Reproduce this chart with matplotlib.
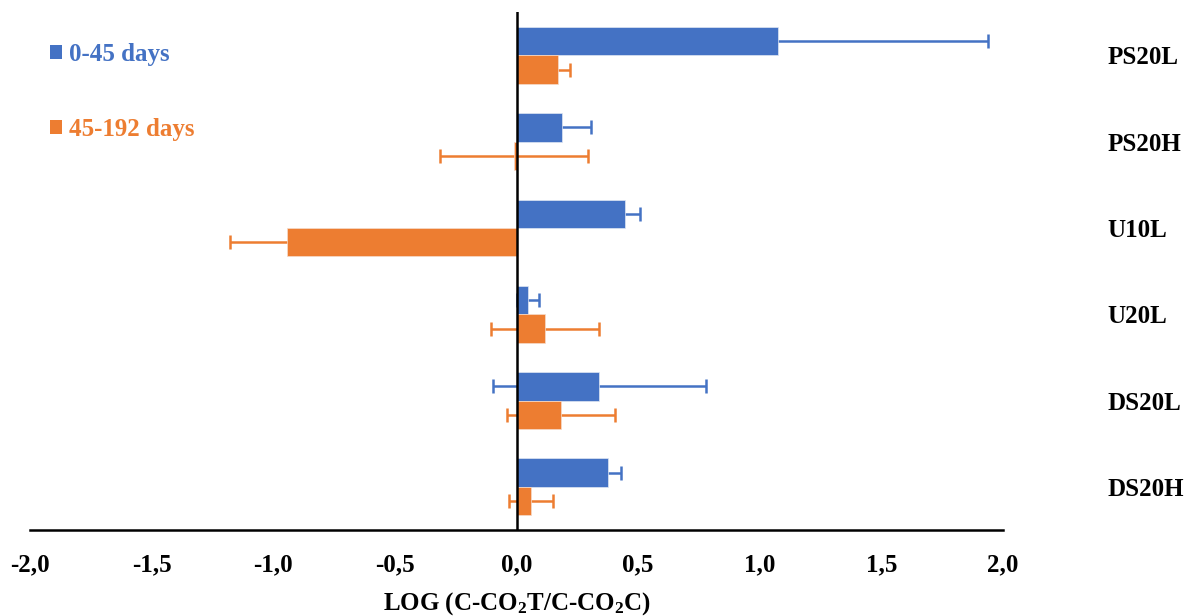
import matplotlib
matplotlib.use("Agg")
import matplotlib.pyplot as plt
from matplotlib.patches import Patch
import numpy as np

# ---- data ----
categories = ["PS20L", "PS20H", "U10L", "U20L", "DS20L", "DS20H"]
series_names = ["0-45 days", "45-192 days"]
early_vals = [1.073, 0.186, 0.445, 0.047, 0.341, 0.375]
early_err = [0.865, 0.119, 0.061, 0.046, 0.438, 0.053]
late_vals = [0.170, -0.010, -0.943, 0.118, 0.182, 0.059]
late_err = [0.049, 0.305, 0.236, 0.223, 0.222, 0.089]
xticks = [-2.0, -1.5, -1.0, -0.5, 0.0, 0.5, 1.0, 1.5, 2.0]
xtick_labels = ["-2,0", "-1,5", "-1,0", "-0,5", "0,0", "0,5", "1,0", "1,5", "2,0"]
xlabel = r"LOG (C-CO$_2$T/C-CO$_2$C)"

BLUE = "#4472C4"
ORANGE = "#ED7D31"

plt.rcParams["font.family"] = ["Liberation Serif", "DejaVu Serif"]
plt.rcParams["font.weight"] = "bold"
plt.rcParams["mathtext.fontset"] = "custom"
plt.rcParams["mathtext.rm"] = "Liberation Serif:bold"
plt.rcParams["mathtext.it"] = "Liberation Serif:bold"
plt.rcParams["mathtext.bf"] = "Liberation Serif:bold"
plt.rcParams["mathtext.default"] = "rm"

FS = 18

fig = plt.figure(figsize=(11.95, 6.16), dpi=100)
ax = fig.add_axes([30 / 1195, 1 - 530 / 616, (1003 - 30) / 1195, (530 - 12.3) / 616])

y = np.arange(len(categories))
h = 0.33
y_early = y - h / 2
y_late = y + h / 2

ax.barh(y_early, early_vals, height=h, color=BLUE, edgecolor="#dfe6f3", linewidth=0.5, zorder=3)
ax.barh(y_late, late_vals, height=h, color=ORANGE, edgecolor="#f6dccb", linewidth=0.5, zorder=3)
ax.errorbar(early_vals, y_early, xerr=early_err, fmt="none", ecolor=BLUE,
            elinewidth=1.8, capsize=5, capthick=1.8, zorder=2)
ax.errorbar(late_vals, y_late, xerr=late_err, fmt="none", ecolor=ORANGE,
            elinewidth=1.8, capsize=5, capthick=1.8, zorder=2)

ax.axvline(0, color="black", lw=1.8, zorder=4)

ax.set_xlim(-2, 2)
ax.set_ylim(len(categories) - 0.5, -0.5)

ax.set_xticks(xticks)
ax.set_xticklabels(xtick_labels, fontsize=FS, fontweight="bold")
ax.tick_params(axis="x", length=0, pad=17)

ax.yaxis.tick_right()
ax.set_yticks(y)
ax.set_yticklabels(categories, fontsize=FS, fontweight="bold")
ax.tick_params(axis="y", length=0, pad=75)
for t in ax.get_yticklabels():
    t.set_horizontalalignment("left")

for s in ["top", "left", "right"]:
    ax.spines[s].set_visible(False)
ax.spines["bottom"].set_color("black")
ax.spines["bottom"].set_linewidth(1.8)

ax.set_xlabel(xlabel, fontsize=FS, fontweight="bold", labelpad=9.5)

handles = [Patch(facecolor=BLUE, edgecolor="none"), Patch(facecolor=ORANGE, edgecolor="none")]
ax.legend(handles, series_names, loc="upper left", bbox_to_anchor=(0.0206, 0.941),
          frameon=False, prop={"weight": "bold", "size": FS},
          labelcolor=[BLUE, ORANGE], handlelength=0.48, handleheight=0.48,
          handletextpad=0.28, labelspacing=2.1, borderpad=0, borderaxespad=0)

fig.savefig("out.png", dpi=100)
